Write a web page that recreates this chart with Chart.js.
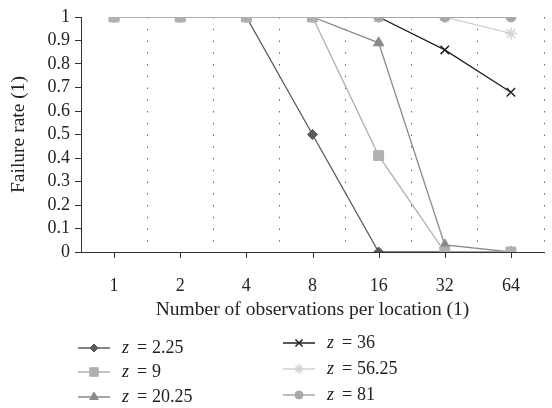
<!DOCTYPE html>
<html>
<head>
<meta charset="utf-8">
<script src="https://cdn.jsdelivr.net/npm/chart.js@4"></script>
<style>
  html, body { margin: 0; padding: 0; background: #fff; }
  #wrap { width: 552px; height: 408px; }
</style>
</head>
<body>
<div id="wrap"><canvas id="chart" width="552" height="408"></canvas></div>
<script>
// observations per location
const observations = ["1", "2", "4", "8", "16", "32", "64"];
const yTicks = [0, 0.1, 0.2, 0.3, 0.4, 0.5, 0.6, 0.7, 0.8, 0.9, 1];

const zLabels = ["2.25", "9", "20.25", "36", "56.25", "81"];
const rateZ225 = [1, 1, 1, 0.5, 0, 0, 0];
const rateZ9 = [1, 1, 1, 1, 0.41, 0, 0];
const rateZ2025 = [1, 1, 1, 1, 0.89, 0.03, 0];
const rateZ36 = [1, 1, 1, 1, 1, 0.86, 0.68];
const rateZ5625 = [1, 1, 1, 1, 1, 1, 0.93];
const rateZ81 = [1, 1, 1, 1, 1, 1, 1];

const SERIF = "'Liberation Serif', 'DejaVu Serif', serif";

function series(label, data, color, style, radius, order, width) {
    return {
        label: label,
        data: data,
        borderColor: color,
        backgroundColor: color,
        borderWidth: width || 1.3,
        pointStyle: style,
        pointRadius: radius,
        pointBorderWidth: style === "crossRot" || style === "star" ? 1.5 : 1,
        pointBorderColor: color,
        pointBackgroundColor: color,
        tension: 0,
        order: order
    };
}

const datasets = [
    series(zLabels[0], rateZ225, "#5a5a5a", "rectRot", 5, 5),
    series(zLabels[1], rateZ9, "#b0b0b0", "rect", 7, 0),
    series(zLabels[2], rateZ2025, "#8a8a8a", "triangle", 6, 4),
    series(zLabels[3], rateZ36, "#222222", "crossRot", 6, 3),
    series(zLabels[4], rateZ5625, "#d2d2d2", "star", 6, 2),
    series(zLabels[5], rateZ81, "#a8a8a8", "circle", 5, 1, 2)
];

// legend laid out in two columns, drawn from the dataset styles
const legendSlots = [
    { x: 78, y: 348 }, { x: 78, y: 372 }, { x: 78, y: 397 },
    { x: 283, y: 343 }, { x: 283, y: 369 }, { x: 283, y: 395 }
];

const extras = {
    id: "extras",
    afterDraw(chart) {
        const ctx = chart.ctx;
        const xs = chart.scales.x;
        const bottom = chart.chartArea.bottom;

        // tick marks under each category
        ctx.save();
        ctx.strokeStyle = "#333";
        ctx.lineWidth = 1;
        observations.forEach((o, i) => {
            const px = Math.round(xs.getPixelForTick(i)) + 0.5;
            ctx.beginPath();
            ctx.moveTo(px, bottom);
            ctx.lineTo(px, bottom + 6);
            ctx.stroke();
        });
        ctx.restore();

        // legend
        chart.data.datasets.forEach((ds, i) => {
            const s = legendSlots[i];
            ctx.save();
            ctx.strokeStyle = ds.borderColor;
            ctx.lineWidth = 1.5;
            ctx.beginPath();
            ctx.moveTo(s.x, s.y);
            ctx.lineTo(s.x + 32, s.y);
            ctx.stroke();
            ctx.fillStyle = ds.backgroundColor;
            ctx.lineWidth = ds.pointBorderWidth;
            Chart.helpers.drawPoint(ctx, {
                pointStyle: ds.pointStyle,
                radius: ds.pointRadius - 1,
                rotation: 0,
                borderWidth: ds.pointBorderWidth
            }, s.x + 16, s.y);
            ctx.fillStyle = "#222";
            ctx.textBaseline = "middle";
            ctx.font = "italic 18px " + SERIF;
            ctx.fillText("z", s.x + 44, s.y);
            ctx.font = "18px " + SERIF;
            ctx.fillText("=", s.x + 59, s.y);
            ctx.fillText(ds.label, s.x + 74, s.y);
            ctx.restore();
        });
    }
};

new Chart(document.getElementById("chart"), {
    type: "line",
    data: { labels: observations, datasets: datasets },
    plugins: [extras],
    options: {
        responsive: false,
        animation: false,
        layout: { padding: { left: 7, right: 0, top: 17, bottom: 86 } },
        plugins: {
            legend: { display: false },
            tooltip: { enabled: false }
        },
        scales: {
            x: {
                offset: true,
                afterFit(scale) { scale.height = 70; },
                grid: {
                    offset: true,
                    drawTicks: false,
                    color: (c) => (c.index >= observations.length ? "rgba(0,0,0,0)" : "#666"),
                    lineWidth: 1,
                    tickLength: 6
                },
                border: { display: true, color: "#333", width: 1, dash: [1.5, 10.25] },
                ticks: {
                    padding: 23,
                    color: "#222",
                    font: { family: SERIF, size: 18 },
                    maxRotation: 0,
                    autoSkip: false
                },
                title: {
                    display: true,
                    text: "Number of observations per location (1)",
                    color: "#222",
                    font: { family: SERIF, size: 19.5 },
                    padding: { top: 0, bottom: 0 }
                }
            },
            y: {
                min: 0,
                max: 1,
                afterFit(scale) { scale.width = 74; },
                afterBuildTicks(scale) { scale.ticks = yTicks.map(v => ({ value: v })); },
                grid: {
                    drawOnChartArea: false,
                    drawTicks: true,
                    tickLength: 6,
                    color: "#333"
                },
                border: { display: true, color: "#333", width: 1 },
                ticks: {
                    padding: 5,
                    color: "#222",
                    autoSkip: false,
                    font: { family: SERIF, size: 18 },
                    callback: (v) => String(v)
                },
                title: {
                    display: true,
                    text: "Failure rate (1)",
                    color: "#222",
                    font: { family: SERIF, size: 19.5 },
                    padding: { top: 0, bottom: 0 }
                }
            }
        }
    }
});
</script>
</body>
</html>
